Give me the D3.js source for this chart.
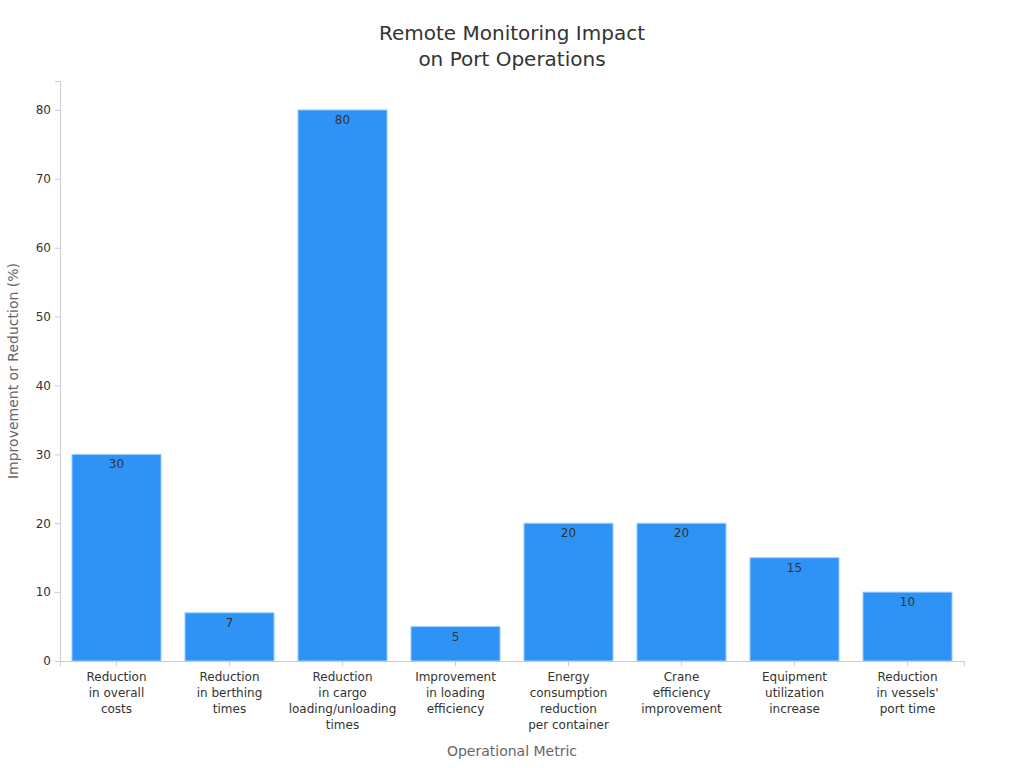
<!DOCTYPE html>
<html>
<head>
<meta charset="utf-8">
<title>Remote Monitoring Impact on Port Operations</title>
<script src="https://cdnjs.cloudflare.com/ajax/libs/d3/7.8.5/d3.min.js"></script>
<style>
  html, body { margin: 0; background: #fff; }
  svg { display: block; font-family: "DejaVu Sans", sans-serif; }
  svg text { font-family: "DejaVu Sans", sans-serif; }
  .tick text { fill: #333; font-size: 12px; }
  .domain, .tick line { stroke: #ccc; }
</style>
</head>
<body>
<svg id="chart" width="1024" height="768"></svg>
<script>
var categories = [
  ["Reduction", "in overall", "costs"],
  ["Reduction", "in berthing", "times"],
  ["Reduction", "in cargo", "loading/unloading", "times"],
  ["Improvement", "in loading", "efficiency"],
  ["Energy", "consumption", "reduction", "per container"],
  ["Crane", "efficiency", "improvement"],
  ["Equipment", "utilization", "increase"],
  ["Reduction", "in vessels'", "port time"]
];
var values = [30, 7, 80, 5, 20, 20, 15, 10];
var yTicks = [0, 10, 20, 30, 40, 50, 60, 70, 80];

var margin = { top: 81, right: 60, bottom: 107, left: 60 };
var width = 1024 - margin.left - margin.right;
var height = 768 - margin.top - margin.bottom;

var svg = d3.select("#chart");
var g = svg.append("g").attr("transform", "translate(" + margin.left + "," + margin.top + ")");

var x = d3.scaleBand()
  .domain(d3.range(categories.length))
  .range([0, width])
  .paddingInner(0.212)
  .paddingOuter(0.106);

var y = d3.scaleLinear().domain([0, 84.2]).range([height, 0]);

// axes
var yAxis = g.append("g")
  .call(d3.axisLeft(y).tickValues(yTicks).tickSize(5).tickPadding(4));
yAxis.selectAll(".tick line").attr("stroke", "#999");

var xAxis = g.append("g")
  .attr("transform", "translate(0," + height + ")")
  .call(d3.axisBottom(x).tickSize(5).tickFormat(""));
xAxis.selectAll(".tick line").attr("stroke", "#555");

xAxis.selectAll(".tick").each(function (d) {
  var t = d3.select(this).append("text")
    .attr("y", 20)
    .attr("text-anchor", "middle")
    .style("font-size", "12px")
    .attr("fill", "#222");
  categories[d].forEach(function (line, i) {
    t.append("tspan").attr("x", 0).attr("dy", i === 0 ? 0 : 16).text(line);
  });
});

// bars
g.selectAll("rect.bar")
  .data(values)
  .enter().append("rect")
  .attr("class", "bar")
  .attr("x", function (d, i) { return x(i); })
  .attr("y", function (d) { return y(d); })
  .attr("width", x.bandwidth())
  .attr("height", function (d) { return height - y(d); })
  .attr("fill", "#2f93f6")
  .attr("stroke", "#9fd0ff")
  .attr("stroke-width", 1);

g.selectAll("text.val")
  .data(values)
  .enter().append("text")
  .attr("class", "val")
  .attr("x", function (d, i) { return x(i) + x.bandwidth() / 2; })
  .attr("y", function (d) { return y(d) + 14; })
  .attr("text-anchor", "middle")
  .style("font-size", "12px")
  .attr("fill", "#333")
  .text(function (d) { return d; });

// title
svg.append("text")
  .attr("x", 512).attr("y", 40)
  .attr("text-anchor", "middle")
  .style("font-size", "20px")
  .attr("fill", "#333")
  .selectAll("tspan")
  .data(["Remote Monitoring Impact", "on Port Operations"])
  .enter().append("tspan")
  .attr("x", 512)
  .attr("dy", function (d, i) { return i === 0 ? 0 : 26; })
  .text(function (d) { return d; });

// axis titles
svg.append("text")
  .attr("x", margin.left + width / 2)
  .attr("y", 756)
  .attr("text-anchor", "middle")
  .style("font-size", "14px")
  .attr("fill", "#666")
  .text("Operational Metric");

svg.append("text")
  .attr("transform", "translate(18," + (margin.top + height / 2) + ") rotate(-90)")
  .attr("text-anchor", "middle")
  .style("font-size", "14px")
  .attr("fill", "#666")
  .text("Improvement or Reduction (%)");
</script>
</body>
</html>
